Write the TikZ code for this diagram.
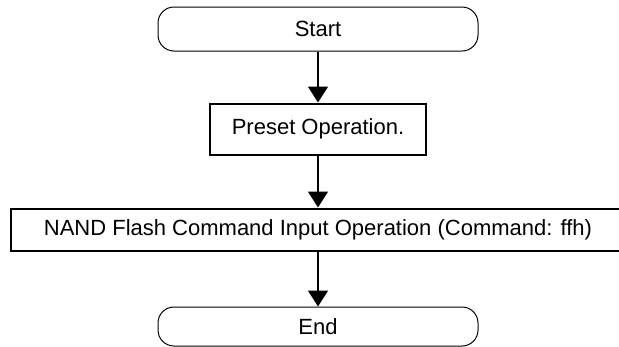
\documentclass[tikz,border=0pt]{standalone}
\usepackage{fontspec}
\setmainfont{Liberation Sans}
\usetikzlibrary{arrows.meta, positioning}

\begin{document}
\begin{tikzpicture}[x=1pt, y=1pt,
  >={Triangle[length=16pt, width=20pt]}, node distance=51pt,
  terminal/.style={draw, line width=1pt, rounded corners=16pt,
                   minimum width=320pt, inner sep=0pt, font=\fontsize{22}{26}\selectfont},
  process/.style={draw, line width=2pt, inner sep=0pt,
                  font=\fontsize{22}{26}\selectfont},
  flow/.style={->, line width=1.5pt}]
  \useasboundingbox (0,0) rectangle (619,-346);
  \clip (0,0) rectangle (619,-346);
  \node[terminal, minimum height=44pt] (start) at (318,-29) {Start};
  \node[process, minimum width=216pt, minimum height=51pt, below=of start] (preset) {Preset Operation.};
  \node[process, minimum width=614pt, minimum height=42pt, below=52pt of preset] (nandcmd) {NAND Flash Command Input Operation (Command: ffh)};
  \node[terminal, minimum height=39pt, below=55pt of nandcmd] (end) {End};
  \draw[flow] (start)--(preset);
  \draw[flow] (preset)--(nandcmd);
  \draw[flow] (nandcmd)--(end);
\end{tikzpicture}
\end{document}
